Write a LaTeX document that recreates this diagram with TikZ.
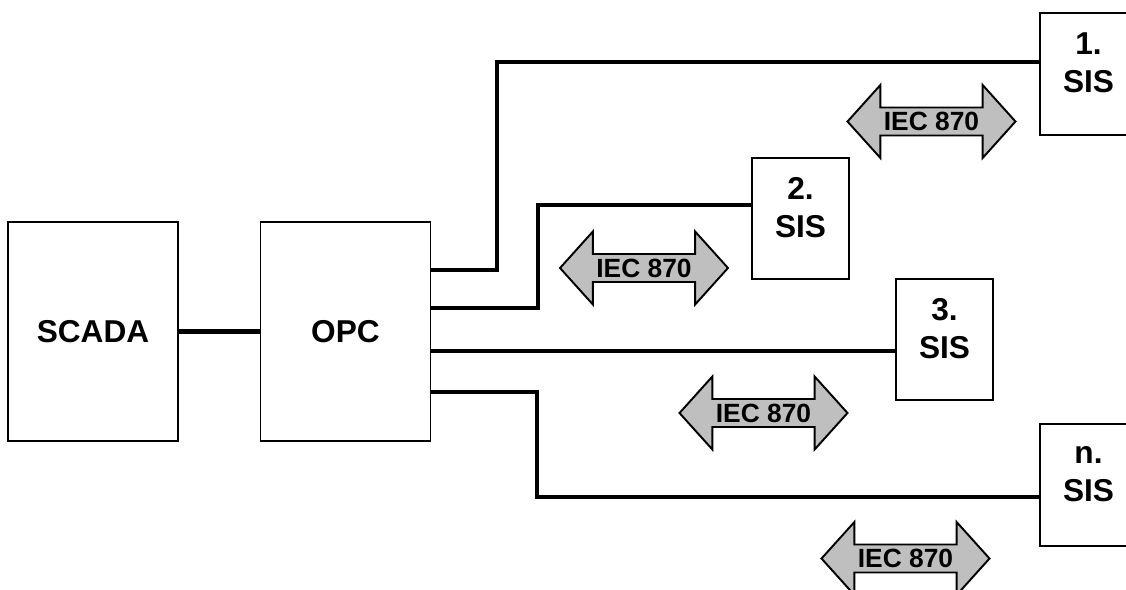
\documentclass[tikz,border=0pt]{standalone}
\usepackage{fontspec}
\setmainfont{Liberation Sans}
\usepackage{tikz}
\usetikzlibrary{
  arrows.meta,
  positioning,
  shapes.arrows
}

\begin{document}
\begin{tikzpicture}[
  x=0.02cm, y=-0.02cm,
  unitbox/.style={
    draw=black, line width=1.1pt,
    fill=white,
    minimum width=3.4cm, minimum height=4.38cm,
    font=\fontsize{18}{21.6}\selectfont\bfseries,
    inner sep=0pt
  },
  sisbox/.style={
    draw=black, line width=1.1pt,
    fill=white,
    minimum width=1.94cm, minimum height=2.43cm,
    font=\fontsize{18}{21.6}\selectfont\bfseries,
    align=center, inner sep=0pt, text depth=13pt
  },
  link/.style={
    line width=2.3pt, draw=black
  },
  iecarrow/.style={
    shape=double arrow, draw=black, line width=1.1pt,
    fill=black!25,
    minimum height=3.36cm, minimum width=1.46cm,
    double arrow head extend=0.33cm, double arrow tip angle=96,
    font=\fontsize{15}{18}\selectfont\bfseries,
    inner sep=0pt
  }
]
\useasboundingbox (0,0) rectangle (1126,589);

\node[unitbox] (scada) at (93, 331.5)    {SCADA};
\node[unitbox] (opc)   at (345.5, 331.5) {OPC};

\node[sisbox] (sis1) at (1088.5, 74)   {1.\\SIS};
\node[sisbox] (sis2) at (800.5, 218.5) {2.\\SIS};
\node[sisbox] (sis3) at (944.5, 339.5) {3.\\SIS};
\node[sisbox] (sisn) at (1088.5, 485)  {n.\\SIS};

\node[iecarrow] (iec1) at (931.5, 121.5) {IEC 870};
\node[iecarrow] (iec2) at (644, 268)     {IEC 870};
\node[iecarrow] (iec3) at (763.5, 413)   {IEC 870};
\node[iecarrow] (iecn) at (905.5, 558.5) {IEC 870};

\coordinate (b1) at (497, 62);
\coordinate (b2) at (538, 205);
\coordinate (bn) at (537, 497);

\draw[link] (scada) -- (opc);
\draw[link] (opc.east |- 0,270) -| (b1) -- (sis1.west |- b1);
\draw[link] (opc.east |- 0,308) -| (b2) -- (sis2.west |- b2);
\draw[link] (opc.east |- 0,351) -- (sis3.west |- 0,351);
\draw[link] (opc.east |- 0,392) -| (bn) -- (sisn.west |- bn);
\end{tikzpicture}
\end{document}
